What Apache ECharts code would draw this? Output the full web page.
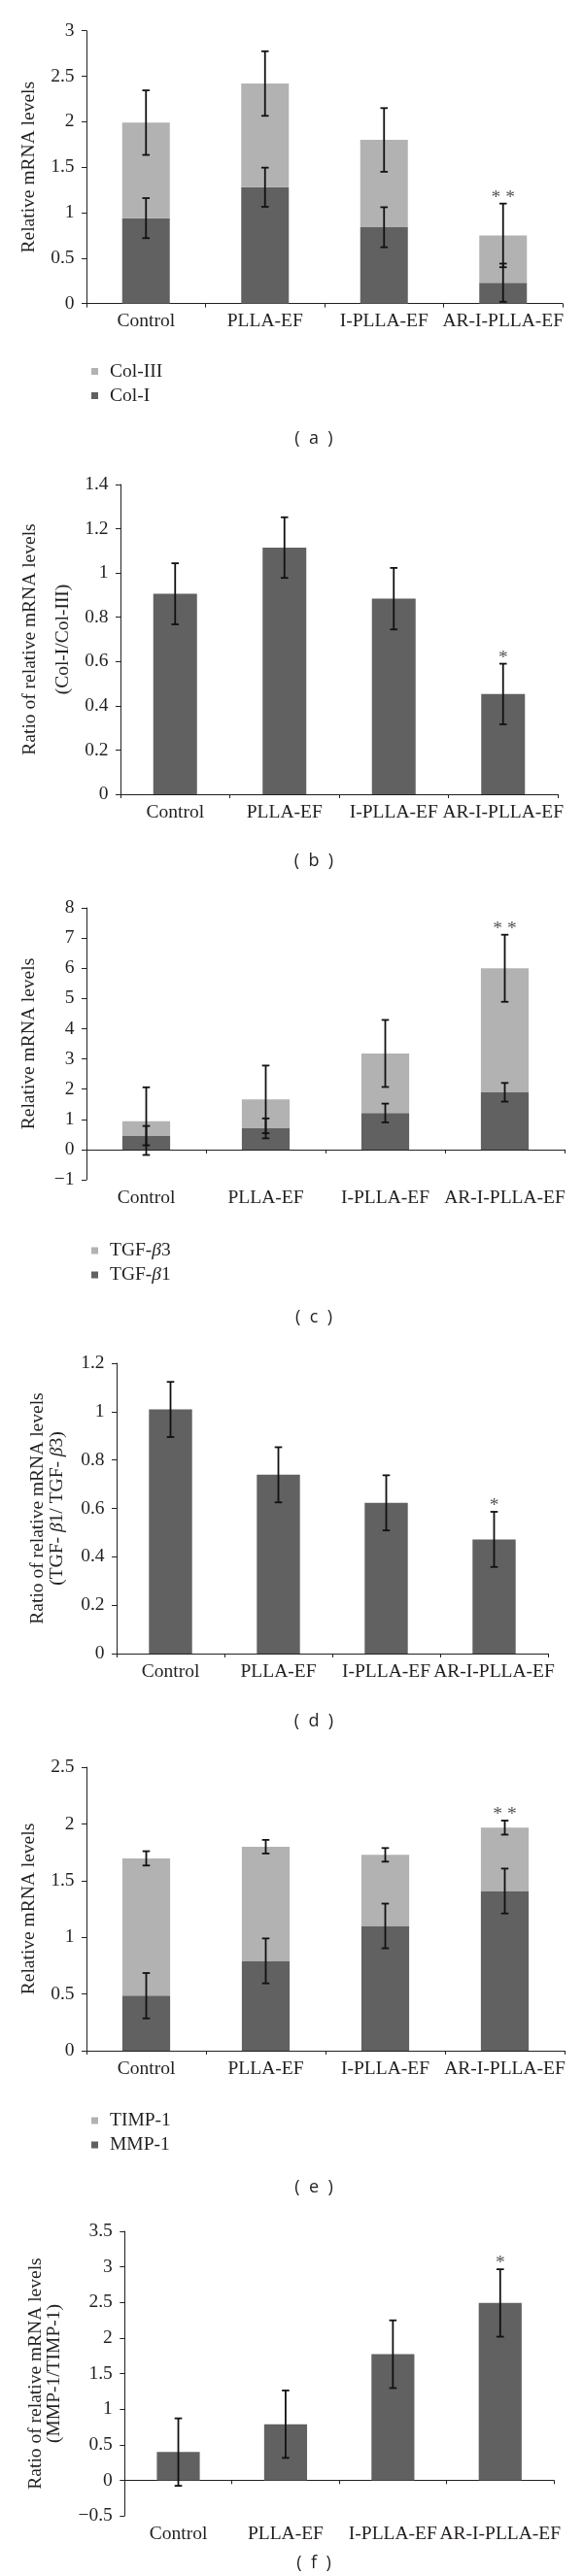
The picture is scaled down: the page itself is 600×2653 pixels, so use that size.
<!DOCTYPE html>
<html><head><meta charset="utf-8">
<script src="https://cdn.jsdelivr.net/npm/echarts@6/dist/echarts.min.js"></script>
<style>html,body{margin:0;padding:0;background:#fff}#c{width:600px;height:2653px}</style>
</head><body><div id="c"></div>
<script>
// ---------------- data ----------------
const categories = ['Control', 'PLLA-EF', 'I-PLLA-EF', 'AR-I-PLLA-EF'];

// (a) collagen
const colI = [0.94, 1.28, 0.84, 0.23];
const colIErr = [0.22, 0.215, 0.22, 0.21];
const colIII = [1.05, 1.14, 0.96, 0.52];
const colIIIErr = [0.355, 0.355, 0.35, 0.35];
const sigA = ['', '', '', '* *'];
const axisA = [0, 3, 0.5];
const nameA = ['Relative mRNA levels'];

// (b) Col-I/Col-III ratio
const ratioB = [0.906, 1.115, 0.884, 0.453];
const ratioBErr = [0.138, 0.137, 0.139, 0.137];
const sigB = ['', '', '', '*'];
const axisB = [0, 1.4, 0.2];
const nameB = ['Ratio of relative mRNA levels', '(Col-I/Col-III)'];

// (c) TGF
const tgfb1 = [0.46, 0.70, 1.21, 1.895];
const tgfb1Err = [0.32, 0.33, 0.31, 0.31];
const tgfb3 = [0.48, 0.96, 1.97, 4.105];
const tgfb3Err = [1.12, 1.12, 1.11, 1.11];
const sigC = ['', '', '', '* *'];
const axisC = [-1, 8, 1];
const nameC = ['Relative mRNA levels'];

// (d) TGF ratio
const ratioD = [1.009, 0.739, 0.623, 0.472];
const ratioDErr = [0.114, 0.114, 0.114, 0.114];
const sigD = ['', '', '', '*'];
const axisD = [0, 1.2, 0.2];
const nameD = ['Ratio of relative mRNA levels', '(TGF- {i|β}1/ TGF- {i|β}3)'];

// (e) MMP / TIMP
const mmp1 = [0.485, 0.792, 1.100, 1.408];
const mmp1Err = [0.20, 0.198, 0.197, 0.198];
const timp1 = [1.211, 1.007, 0.627, 0.559];
const timp1Err = [0.063, 0.06, 0.06, 0.062];
const sigE = ['', '', '', '* *'];
const axisE = [0, 2.5, 0.5];
const nameE = ['Relative mRNA levels'];

// (f) MMP/TIMP ratio
const ratioF = [0.396, 0.788, 1.772, 2.492];
const ratioFErr = [0.474, 0.474, 0.476, 0.474];
const sigF = ['', '', '', '*'];
const axisF = [-0.5, 3.5, 0.5];
const nameF = ['Ratio of relative mRNA levels', '(MMP-1/TIMP-1)'];

const captions = ['(  a  )', '(  b  )', '(  c  )', '(  d  )', '(  e  )', '(  f  )'];

// ---------------- layout & styles ----------------
const SERIF = '"Liberation Serif", "Times New Roman", serif';
const INK = '#231f20';
const DARK = '#616161';
const LIGHT = '#b2b2b2';
const FS = 19.5;

const gridBoxes = [
  {left: 89,    top: 31.7, width: 490,   height: 281},
  {left: 124,   top: 499,  width: 450,   height: 319},
  {left: 89,    top: 935,  width: 492,   height: 280},
  {left: 120,   top: 1404, width: 444,   height: 299},
  {left: 89,    top: 1820, width: 492,   height: 292},
  {left: 128.3, top: 2298, width: 441.7, height: 293}
];
const grids = gridBoxes.map(g => Object.assign({containLabel: false, outerBoundsMode: 'none'}, g));
// x centres of y-axis title lines, per panel
const nameLineX = [[30.1], [30.4, 65], [30.1], [38.4, 59.1], [30.1], [36.7, 56.1]];
const captionY = [452, 887, 1357, 1773, 2253, 2640];

const richItalic = {i: {fontStyle: 'italic', fontFamily: SERIF, fontSize: FS, fill: INK, color: INK}};

function xAxis(gi) {
  return {
    type: 'category', gridIndex: gi, data: categories,
    axisLine: {show: true, onZero: true, lineStyle: {color: INK, width: 1}},
    axisTick: {show: true, interval: 0, length: 4, lineStyle: {color: INK, width: 1}},
    axisLabel: {interval: 0, hideOverlap: false, margin: 8.5, fontFamily: SERIF, fontSize: FS, color: INK},
    splitLine: {show: false}
  };
}
function yAxis(gi, range) {
  return {
    type: 'value', gridIndex: gi, min: range[0], max: range[1], interval: range[2],
    axisLine: {show: true, lineStyle: {color: INK, width: 1}},
    axisTick: {show: true, length: 5, lineStyle: {color: INK, width: 1}},
    axisLabel: {margin: 12.5, fontFamily: SERIF, fontSize: FS, color: INK,
      formatter: v => String(v).replace('-', '\u2212')},
    splitLine: {show: false}
  };
}

function barSeries(gi, name, data, color, stack) {
  return {type: 'bar', name: name, xAxisIndex: gi, yAxisIndex: gi, data: data,
    stack: stack, barCategoryGap: '60%', itemStyle: {color: color}, silent: true, z: 2};
}
function errSeries(gi, base, err) {
  return {
    type: 'custom', xAxisIndex: gi, yAxisIndex: gi, silent: true, z: 10,
    data: base.map((v, i) => [i, v - err[i], v + err[i]]),
    encode: {x: 0, y: [1, 2]},
    renderItem: (params, api) => {
      const x = api.value(0);
      const lo = api.coord([x, api.value(1)]);
      const hi = api.coord([x, api.value(2)]);
      const w = 3.8;
      const st = {stroke: '#111', lineWidth: 1.8};
      return {type: 'group', children: [
        {type: 'line', shape: {x1: lo[0], y1: lo[1], x2: hi[0], y2: hi[1]}, style: st},
        {type: 'line', shape: {x1: hi[0] - w, y1: hi[1], x2: hi[0] + w, y2: hi[1]}, style: st},
        {type: 'line', shape: {x1: lo[0] - w, y1: lo[1], x2: lo[0] + w, y2: lo[1]}, style: st}
      ]};
    }
  };
}
function sigSeries(gi, top, err, sig) {
  const d = [];
  sig.forEach((s, i) => { if (s) d.push([i, top[i] + err[i], s]); });
  return {
    type: 'scatter', xAxisIndex: gi, yAxisIndex: gi, symbolSize: 0, silent: true, z: 11,
    data: d,
    label: {show: true, position: 'top', distance: -3, formatter: p => p.value[2],
      fontFamily: SERIF, fontSize: FS, color: INK, lineHeight: 18}
  };
}
const sum = (a, b) => a.map((v, i) => v + b[i]);

function legend(names, top) {
  return {
    data: names, orient: 'vertical', left: 89, top: top, itemWidth: 7, itemHeight: 7, itemGap: 5,
    icon: 'rect', selectedMode: false,
    formatter: n => n.replace('β', '{i|β}'),
    textStyle: {fontFamily: SERIF, fontSize: FS, color: INK, lineHeight: 20, padding: [0, 0, 0, 7],
      rich: {i: {fontStyle: 'italic', fontFamily: SERIF, fontSize: FS, color: INK, lineHeight: 20}}}
  };
}

function caption(txt, y) {
  return {type: 'text', x: 323, y: y, silent: true,
    style: {text: txt, textAlign: 'center', textVerticalAlign: 'middle',
      font: '18px "Open Sans", "Noto Sans", sans-serif', fill: INK}};
}
function axisTitle(lines, gi) {
  const g = gridBoxes[gi];
  const cy = g.top + g.height / 2;
  return lines.map((t, k) => ({
    type: 'text', x: nameLineX[gi][k], y: cy, rotation: Math.PI / 2, silent: true,
    style: {text: t, textAlign: 'center', textVerticalAlign: 'middle',
      fontFamily: SERIF, fontSize: FS, fill: INK, rich: richItalic}
  }));
}

const totA = sum(colI, colIII);
const totC = sum(tgfb1, tgfb3);
const totE = sum(mmp1, timp1);

const option = {
  animation: false,
  backgroundColor: '#fff',
  grid: grids,
  xAxis: [0, 1, 2, 3, 4, 5].map(xAxis),
  yAxis: [axisA, axisB, axisC, axisD, axisE, axisF].map((r, i) => yAxis(i, r)),
  legend: [
    legend(['Col-III', 'Col-I'], 367.5),
    legend(['TGF-β3', 'TGF-β1'], 1273),
    legend(['TIMP-1', 'MMP-1'], 2169)
  ],
  series: [
    barSeries(0, 'Col-I', colI, DARK, 'a'),
    barSeries(0, 'Col-III', colIII, LIGHT, 'a'),
    errSeries(0, colI, colIErr),
    errSeries(0, totA, colIIIErr),
    sigSeries(0, totA, colIIIErr, sigA),

    barSeries(1, 'ratioB', ratioB, DARK),
    errSeries(1, ratioB, ratioBErr),
    sigSeries(1, ratioB, ratioBErr, sigB),

    barSeries(2, 'TGF-β1', tgfb1, DARK, 'c'),
    barSeries(2, 'TGF-β3', tgfb3, LIGHT, 'c'),
    errSeries(2, tgfb1, tgfb1Err),
    errSeries(2, totC, tgfb3Err),
    sigSeries(2, totC, tgfb3Err, sigC),

    barSeries(3, 'ratioD', ratioD, DARK),
    errSeries(3, ratioD, ratioDErr),
    sigSeries(3, ratioD, ratioDErr, sigD),

    barSeries(4, 'MMP-1', mmp1, DARK, 'e'),
    barSeries(4, 'TIMP-1', timp1, LIGHT, 'e'),
    errSeries(4, mmp1, mmp1Err),
    errSeries(4, totE, timp1Err),
    sigSeries(4, totE, timp1Err, sigE),

    barSeries(5, 'ratioF', ratioF, DARK),
    errSeries(5, ratioF, ratioFErr),
    sigSeries(5, ratioF, ratioFErr, sigF)
  ],
  graphic: [].concat(
    captions.map((c, i) => caption(c, captionY[i])),
    axisTitle(nameA, 0), axisTitle(nameB, 1), axisTitle(nameC, 2),
    axisTitle(nameD, 3), axisTitle(nameE, 4), axisTitle(nameF, 5)
  )
};
const chart = echarts.init(document.getElementById('c'), null, {renderer: 'canvas'});
chart.setOption(option);
</script>
</body></html>
